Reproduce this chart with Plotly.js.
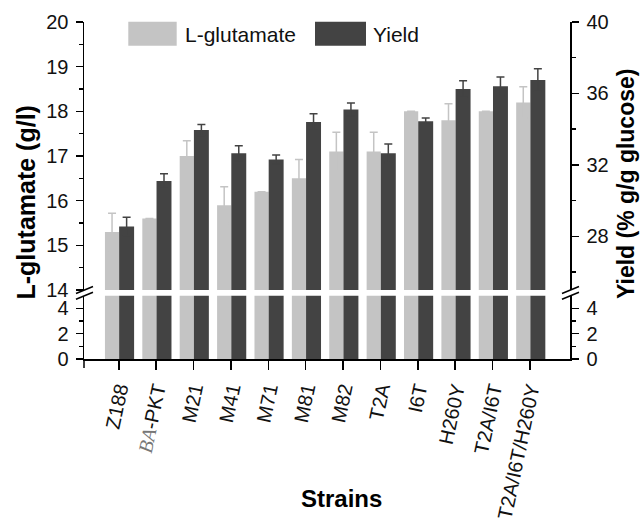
<!DOCTYPE html>
<html>
<head>
<meta charset="utf-8">
<script src="https://cdn.plot.ly/plotly-3.0.1.min.js"></script>
<style>html,body{margin:0;padding:0;background:#fff;}#chart{width:641px;height:520px;}</style>
</head>
<body>
<div id="chart"></div>
<script>
// ---- data ----
const strains = ['Z188','BA-PKT','M21','M41','M71','M81','M82','T2A','I6T','H260Y','T2A/I6T','T2A/I6T/H260Y'];
const strainLabels = ['Z188','<span style="font-family:\'Liberation Serif\';font-style:italic;color:#777">BA</span>-PKT','M21','M41','M71','M81','M82','T2A','I6T','H260Y','T2A/I6T','T2A/I6T/H260Y'];
const glutamate = [15.3, 15.6, 17.0, 15.9, 16.2, 16.5, 17.1, 17.1, 18.0, 17.8, 18.0, 18.2];
const glutamateErr = [0.42, 0, 0.34, 0.41, 0, 0.42, 0.43, 0.43, 0, 0.37, 0, 0.35];
const yieldPct = [28.55, 31.1, 33.95, 32.65, 32.3, 34.4, 35.1, 32.65, 34.45, 36.25, 36.4, 36.75];
const yieldErr = [0.52, 0.4, 0.32, 0.43, 0.25, 0.46, 0.36, 0.52, 0.17, 0.46, 0.52, 0.63];
const leftLowTicks = [0, 2, 4];
const leftLowMinor = [1, 3];
const leftHighTicks = [14, 15, 16, 17, 18, 19, 20];
const leftHighMinor = [14.5, 15.5, 16.5, 17.5, 18.5, 19.5];
const rightLowTicks = [0, 2, 4];
const rightLowMinor = [1, 3];
const rightHighTicks = [28, 32, 36, 40];
const rightHighMinor = [26, 30, 34, 38];

// ---- styling ----
const LIGHT = '#c4c4c4', DARK = '#434343';
const FONT = 'Liberation Sans, Arial, sans-serif';
const M = {l: 84, r: 71, t: 22, b: 161};
const W = 641, H = 520;
const PW = W - M.l - M.r, PH = H - M.t - M.b;
const px = x => (x - M.l) / PW;
const py = y => (H - M.b - y) / PH;

const lowTop = py(295.7), highBottom = py(290);

function barTrace(y, yaxis, color, offset, width, err, errColor) {
  const t = {
    type: 'bar', x: strains, y: y, xaxis: 'x', yaxis: yaxis,
    marker: {color: color, line: {width: 0}},
    offset: offset, width: width, showlegend: false, hoverinfo: 'x+y'
  };
  if (err) t.error_y = {type: 'data', array: err, visible: true, color: errColor, thickness: 1.5, width: 4};
  return t;
}

const data = [
  barTrace(glutamate, 'y', LIGHT, -0.37, 0.38),
  barTrace(glutamate, 'y2', LIGHT, -0.37, 0.38, glutamateErr, LIGHT),
  barTrace(yieldPct, 'y3', DARK, 0.01, 0.40),
  barTrace(yieldPct, 'y4', DARK, 0.01, 0.40, yieldErr, DARK)
];

const axisCommon = {
  showline: true, linecolor: '#000', linewidth: 1.5, ticks: 'outside', ticklen: 7, tickwidth: 1.5,
  tickcolor: '#000', showgrid: false, zeroline: false, automargin: false,
  tickfont: {family: FONT, size: 20, color: '#111'}, fixedrange: true
};
const minorStyle = vals => ({tickvals: vals, ticks: 'outside', ticklen: 4, tickwidth: 1.5, tickcolor: '#000', showgrid: false});

const layout = {
  width: W, height: H, margin: Object.assign({autoexpand: false}, M),
  paper_bgcolor: '#fff', plot_bgcolor: 'rgba(0,0,0,0)',
  barmode: 'overlay', showlegend: false,
  font: {family: FONT, color: '#111'},
  xaxis: Object.assign({}, axisCommon, {
    type: 'category', anchor: 'y', range: [-0.93, 12.07],
    tickvals: strains, ticktext: strainLabels, tickangle: -78, ticklen: 9
  }),
  yaxis: Object.assign({}, axisCommon, {
    domain: [0, lowTop], range: [0, 5], tickmode: 'array', tickvals: leftLowTicks,
    minor: minorStyle(leftLowMinor), anchor: 'x', ticklabelstandoff: 3
  }),
  yaxis2: Object.assign({}, axisCommon, {
    domain: [highBottom, 1], range: [14, 20], tickmode: 'array', tickvals: leftHighTicks,
    minor: minorStyle(leftHighMinor), anchor: 'x', ticklabelstandoff: 3
  }),
  yaxis3: Object.assign({}, axisCommon, {
    overlaying: 'y', side: 'right', anchor: 'x', range: [0, 5], tickmode: 'array',
    tickvals: rightLowTicks, minor: minorStyle(rightLowMinor), ticklabelstandoff: 4
  }),
  yaxis4: Object.assign({}, axisCommon, {
    overlaying: 'y2', side: 'right', anchor: 'x', range: [25, 40], tickmode: 'array',
    tickvals: rightHighTicks, minor: minorStyle(rightHighMinor), ticklabelstandoff: 4
  }),
  shapes: [
    // break marks left
    {type: 'line', xref: 'paper', yref: 'paper', x0: px(76), y0: py(293.5), x1: px(93), y1: py(286.5), line: {color: '#000', width: 1.5}},
    {type: 'line', xref: 'paper', yref: 'paper', x0: px(76), y0: py(299.2), x1: px(93), y1: py(292.2), line: {color: '#000', width: 1.5}},
    // break marks right
    {type: 'line', xref: 'paper', yref: 'paper', x0: px(562), y0: py(293.5), x1: px(579), y1: py(286.5), line: {color: '#000', width: 1.5}},
    {type: 'line', xref: 'paper', yref: 'paper', x0: px(562), y0: py(299.2), x1: px(579), y1: py(292.2), line: {color: '#000', width: 1.5}},
    // tick at left end of x axis
    {type: 'line', xref: 'paper', yref: 'paper', x0: 0, y0: 0, x1: 0, y1: py(368), line: {color: '#000', width: 1.5}},
    // legend swatches
    {type: 'rect', xref: 'paper', yref: 'paper', x0: px(128.3), x1: px(176.7), y0: py(45.7), y1: py(21.7), fillcolor: LIGHT, line: {width: 0}},
    {type: 'rect', xref: 'paper', yref: 'paper', x0: px(315), x1: px(366), y0: py(45.7), y1: py(21.7), fillcolor: DARK, line: {width: 0}}
  ],
  annotations: [
    {text: 'L-glutamate', xref: 'paper', yref: 'paper', x: px(183), y: py(34), xanchor: 'left', yanchor: 'middle', showarrow: false, font: {family: FONT, size: 21, color: '#111'}},
    {text: 'Yield', xref: 'paper', yref: 'paper', x: px(370.5), y: py(34), xanchor: 'left', yanchor: 'middle', showarrow: false, font: {family: FONT, size: 21, color: '#111'}},
    {text: 'L-glutamate (g/l)', xref: 'paper', yref: 'paper', x: px(25), y: py(202.5), textangle: -90, xanchor: 'center', yanchor: 'middle', showarrow: false, font: {family: FONT, size: 25, color: '#000', weight: 'bold'}},
    {text: 'Yield (% g/g glucose)', xref: 'paper', yref: 'paper', x: px(626), y: py(184), textangle: -90, xanchor: 'center', yanchor: 'middle', showarrow: false, font: {family: FONT, size: 23, color: '#000', weight: 'bold'}},
    {text: 'Strains', xref: 'paper', yref: 'paper', x: px(341.7), y: py(498), xanchor: 'center', yanchor: 'middle', showarrow: false, font: {family: FONT, size: 24, color: '#000', weight: 'bold'}}
  ]
};

Plotly.newPlot('chart', data, layout, {displayModeBar: false, staticPlot: true});
</script>
</body>
</html>
